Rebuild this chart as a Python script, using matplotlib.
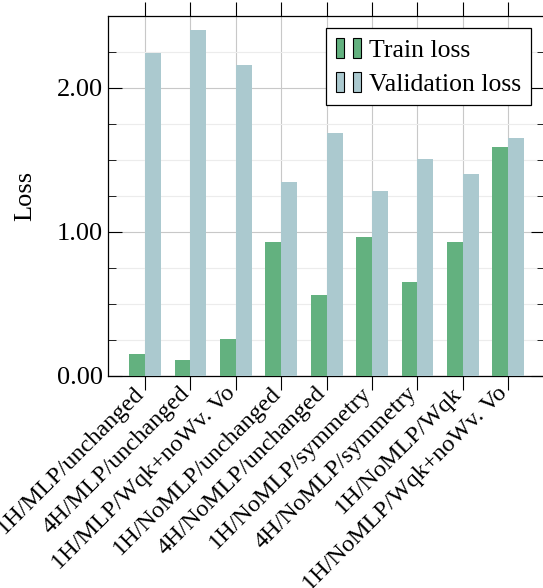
import matplotlib
matplotlib.use("Agg")
import matplotlib.pyplot as plt
from matplotlib.patches import Patch
from matplotlib.legend_handler import HandlerTuple
from matplotlib.ticker import MultipleLocator
import numpy as np

# Data
configs = [
    "1H/MLP/unchanged",
    "4H/MLP/unchanged",
    "1H/MLP/Wqk+noWv. Vo",
    "1H/NoMLP/unchanged",
    "4H/NoMLP/unchanged",
    "1H/NoMLP/symmetry",
    "4H/NoMLP/symmetry",
    "1H/NoMLP/Wqk",
    "1H/NoMLP/Wqk+noWv. Vo",
]
train_loss = [0.15, 0.11, 0.26, 0.93, 0.56, 0.965, 0.65, 0.93, 1.59]
val_loss = [2.24, 2.40, 2.16, 1.35, 1.69, 1.285, 1.505, 1.40, 1.655]

green = "#63b17f"
blue = "#abc9cf"

plt.rcParams["font.family"] = ["Liberation Serif", "DejaVu Serif"]

fig = plt.figure(figsize=(5.43, 5.88), dpi=100)
ax = fig.add_axes([108 / 543, 1 - 376 / 588, 437 / 543, 360 / 588])

x = np.arange(len(configs))
w = 0.35
ax.bar(x - w / 2, train_loss, width=w, color=green, zorder=3)
ax.bar(x + w / 2, val_loss, width=w, color=blue, zorder=3)

ax.set_xlim(-0.815, 8.81)
ax.set_ylim(0, 2.5)

ax.set_xticks(x)
ax.set_xticklabels(configs, rotation=45, ha="right", va="baseline",
                   rotation_mode="anchor", fontsize=17.5)
ax.yaxis.set_major_locator(MultipleLocator(1.0))
ax.yaxis.set_minor_locator(MultipleLocator(0.25))
ax.set_yticks([0, 1, 2])
ax.set_yticklabels(["0.00", "1.00", "2.00"], fontsize=19)

ax.tick_params(axis="x", top=True, bottom=True, direction="out", length=10, width=0.8, pad=3)
ax.tick_params(axis="y", which="major", left=True, right=True, direction="in", length=10, width=0.8)
ax.tick_params(axis="y", which="minor", left=True, right=True, direction="in", length=6, width=0.6)

ax.grid(True, which="major", color="#c8c8c8", linewidth=0.8, zorder=0)
ax.grid(True, which="minor", axis="y", color="#ececec", linewidth=0.8, zorder=0)
ax.set_axisbelow(True)

ax.set_ylabel("Loss", fontsize=19, labelpad=15)

for s in ax.spines.values():
    s.set_linewidth(0.9)

h_train = (Patch(facecolor=green, edgecolor="black", linewidth=0.8),
           Patch(facecolor=green, edgecolor="black", linewidth=0.8))
h_val = (Patch(facecolor=blue, edgecolor="black", linewidth=0.8),
         Patch(facecolor=blue, edgecolor="black", linewidth=0.8))
leg = ax.legend([h_train, h_val], ["Train loss", "Validation loss"],
                handler_map={tuple: HandlerTuple(ndivide=None, pad=0.36)},
                loc="upper right", bbox_to_anchor=(0.968, 0.967),
                fontsize=18.5, frameon=True, fancybox=False, framealpha=1,
                edgecolor="black", handlelength=1.0, handleheight=0.85,
                handletextpad=0.3, borderpad=0.38, labelspacing=0.38,
                borderaxespad=0)
leg.get_frame().set_linewidth(0.9)

fig.savefig("out.png", dpi=100)
